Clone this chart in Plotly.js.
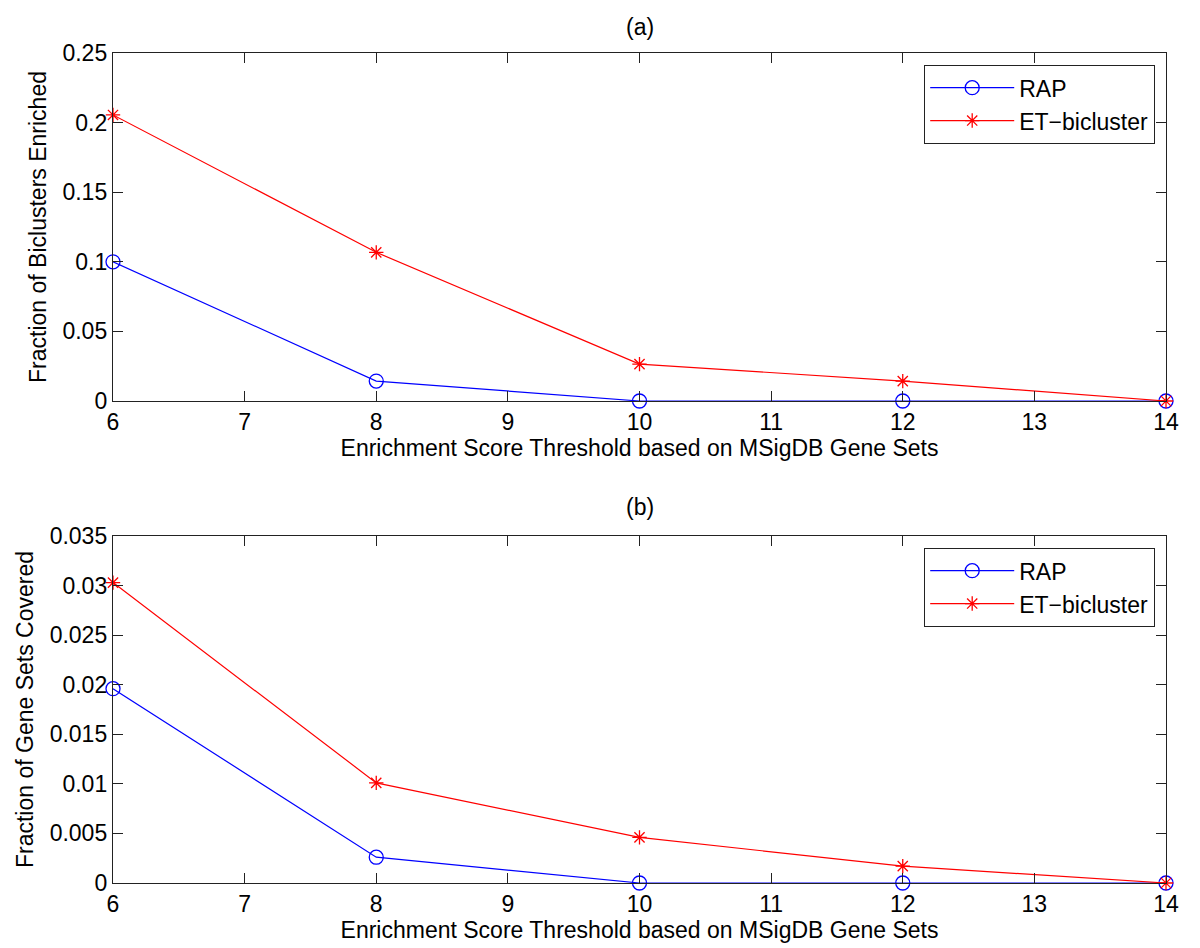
<!DOCTYPE html>
<html>
<head>
<meta charset="utf-8">
<script src="https://cdn.plot.ly/plotly-3.0.1.min.js"></script>
<style>html,body{margin:0;padding:0;background:#fff;}#chart{width:1200px;height:948px;}</style>
</head>
<body>
<div id="chart"></div>
<script>
// Data
var thresholds = [6, 8, 10, 12, 14];
var rapBiclusters = [0.1, 0.0143, 0, 0, 0];
var etBiclusters = [0.2055, 0.1068, 0.0265, 0.0143, 0];
var rapGeneSets = [0.0196, 0.0026, 0, 0, 0];
var etGeneSets = [0.0303, 0.0101, 0.0046, 0.0017, 0];

var xTicks = [6, 7, 8, 9, 10, 11, 12, 13, 14];
var yTicksA = [0, 0.05, 0.1, 0.15, 0.2, 0.25];
var yTickTextA = ["0", "0.05", "0.1", "0.15", "0.2", "0.25"];
var yTicksB = [0, 0.005, 0.01, 0.015, 0.02, 0.025, 0.03, 0.035];
var yTickTextB = ["0", "0.005", "0.01", "0.015", "0.02", "0.025", "0.03", "0.035"];

var seriesNames = ["RAP", "ET\u2212bicluster"];
var xTitle = "Enrichment Score Threshold based on MSigDB Gene Sets";
var yTitleA = "Fraction of Biclusters Enriched";
var yTitleB = "Fraction of Gene Sets Covered";

var FONT = "Liberation Sans, Arial, sans-serif";
var FS = 23;

function rapTrace(y, xa, ya, lg) {
  return {x: thresholds, y: y, xaxis: xa, yaxis: ya, legend: lg, name: seriesNames[0],
    type: "scatter", mode: "lines+markers", cliponaxis: false,
    line: {color: "#0000ff", width: 1.2},
    marker: {symbol: "circle-open", size: 14, color: "#0000ff", line: {width: 1.3, color: "#0000ff"}}};
}
function etTrace(y, xa, ya, lg) {
  return {x: thresholds, y: y, xaxis: xa, yaxis: ya, legend: lg, name: seriesNames[1],
    type: "scatter", mode: "lines+markers", cliponaxis: false,
    line: {color: "#ff0000", width: 1.2},
    marker: {symbol: "asterisk-open", size: 12, color: "#ff0000", line: {width: 1.3, color: "#ff0000"}}};
}

var data = [
  rapTrace(rapBiclusters, "x", "y", "legend"),
  etTrace(etBiclusters, "x", "y", "legend"),
  rapTrace(rapGeneSets, "x2", "y2", "legend2"),
  etTrace(etGeneSets, "x2", "y2", "legend2")
];

var xDom = [113/1200, 1166/1200];
function xAxis(anchor) {
  return {domain: xDom, anchor: anchor, range: [6, 14], tickvals: xTicks,
    ticks: "inside", ticklen: 10, tickwidth: 1, tickcolor: "#222",
    showline: true, linecolor: "#222", linewidth: 1.2, mirror: "ticks",
    showgrid: false, zeroline: false, fixedrange: true,
    tickfont: {family: FONT, size: FS, color: "#000"},
    title: {text: xTitle, font: {family: FONT, size: FS, color: "#000"}, standoff: 6}};
}
function yAxis(anchor, dom, range, tv, tt, title) {
  return {domain: dom, anchor: anchor, range: range, tickvals: tv, ticktext: tt,
    ticks: "inside", ticklen: 10, tickwidth: 1, tickcolor: "#222",
    showline: true, linecolor: "#222", linewidth: 1.2, mirror: "ticks",
    showgrid: false, zeroline: false, fixedrange: true,
    tickfont: {family: FONT, size: FS, color: "#000"},
    title: {text: title, font: {family: FONT, size: FS, color: "#000"}, standoff: 9}};
}
function legendBox(ytop) {
  return {x: 1155/1200, y: ytop, xanchor: "right", yanchor: "top",
    bgcolor: "#fff", bordercolor: "#222", borderwidth: 1.2,
    font: {family: FONT, size: FS, color: "#000"}, itemwidth: 84, tracegroupgap: 0};
}

var layout = {
  width: 1200, height: 948,
  margin: {l: 0, r: 0, t: 0, b: 0},
  paper_bgcolor: "#fff", plot_bgcolor: "#fff",
  showlegend: true,
  xaxis: xAxis("y"),
  yaxis: yAxis("x", [1 - 401/948, 1 - 53/948], [0, 0.25], yTicksA, yTickTextA, yTitleA),
  xaxis2: xAxis("y2"),
  yaxis2: yAxis("x2", [1 - 883/948, 1 - 536/948], [0, 0.035], yTicksB, yTickTextB, yTitleB),
  legend: legendBox(1 - 65/948),
  legend2: legendBox(1 - 548/948),
  annotations: [
    {text: "(a)", xref: "paper", yref: "paper", x: 639.5/1200, y: 1 - 27/948, xanchor: "center", yanchor: "middle", showarrow: false, font: {family: FONT, size: FS, color: "#000"}},
    {text: "(b)", xref: "paper", yref: "paper", x: 639.5/1200, y: 1 - 507/948, xanchor: "center", yanchor: "middle", showarrow: false, font: {family: FONT, size: FS, color: "#000"}}
  ]
};

Plotly.newPlot("chart", data, layout, {displayModeBar: false, staticPlot: true});
</script>
</body>
</html>
